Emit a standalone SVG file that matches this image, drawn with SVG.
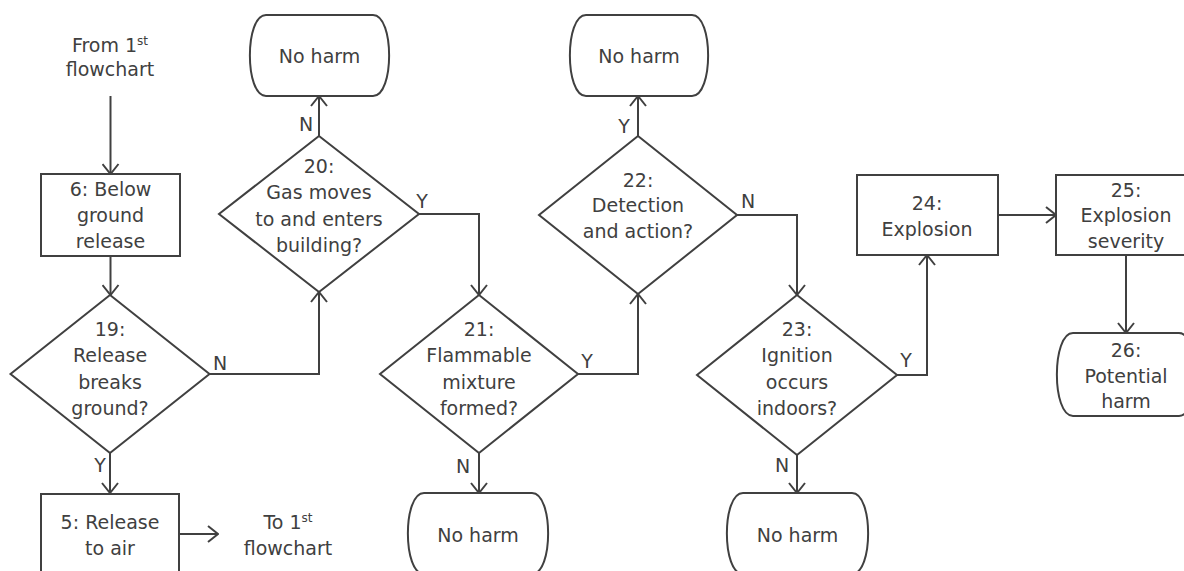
<svg xmlns="http://www.w3.org/2000/svg" width="1184" height="571" viewBox="0 0 1184 571">
<defs>
<style>
.s{fill:#fff;stroke:#404040;stroke-width:2}
.c{fill:none;stroke:#404040;stroke-width:2}
text{font-family:"DejaVu Sans","Verdana",sans-serif;font-size:19px;fill:#404040;text-anchor:middle}
</style>
<marker id="arr" markerUnits="userSpaceOnUse" viewBox="0 0 12 18" markerWidth="12" markerHeight="18" refX="11" refY="9" orient="auto">
<path d="M1,1 L11,9 L1,17" fill="none" stroke="#404040" stroke-width="2"/>
</marker>
</defs>
<rect width="1184" height="571" fill="#fff"/>

<g id="connectors" class="c" marker-end="url(#arr)">
<path d="M110.5,96 V174"/>
<path d="M110.5,256 V295"/>
<path d="M110,453 V493"/>
<path d="M179,534 H218"/>
<path d="M209,374 H319 V292"/>
<path d="M319,136 V96"/>
<path d="M419,214 H479 V295"/>
<path d="M479,453 V493"/>
<path d="M578,374 H638 V294"/>
<path d="M638,136 V96"/>
<path d="M737,215 H797 V295"/>
<path d="M797,455 V493"/>
<path d="M897,375 H927 V255"/>
<path d="M998,215 H1056"/>
<path d="M1126,255 V333"/>
</g>

<g id="labels">
<text x="306" y="131">N</text>
<text x="422" y="208">Y</text>
<text x="220" y="370">N</text>
<text x="100" y="472">Y</text>
<text x="587" y="368">Y</text>
<text x="463" y="473">N</text>
<text x="624" y="133">Y</text>
<text x="748" y="208">N</text>
<text x="782" y="472">N</text>
<text x="906" y="367">Y</text>
</g>

<g id="from1">
<text x="110" y="52">From 1<tspan font-size="12" dy="-7">st</tspan></text>
<text x="110" y="76">flowchart</text>
</g>

<g id="n6">
<rect class="s" x="41" y="174" width="139" height="82"/>
<text x="110.5" y="196">6: Below</text>
<text x="110.5" y="222">ground</text>
<text x="110.5" y="248">release</text>
</g>

<g id="n19">
<polygon class="s" points="110,295 209.5,374 110,453 10.5,374"/>
<text x="110" y="336">19:</text>
<text x="110" y="362">Release</text>
<text x="110" y="389">breaks</text>
<text x="110" y="415">ground?</text>
</g>

<g id="n5">
<rect class="s" x="41" y="494" width="138" height="90"/>
<text x="110" y="529">5: Release</text>
<text x="110" y="555">to air</text>
</g>

<g id="to1">
<text x="288" y="529">To 1<tspan font-size="12" dy="-7">st</tspan></text>
<text x="288" y="555">flowchart</text>
</g>

<g id="n20">
<polygon class="s" points="319,136 419,214 319,292 219,214"/>
<text x="319" y="173">20:</text>
<text x="319" y="199">Gas moves</text>
<text x="319" y="226">to and enters</text>
<text x="319" y="252">building?</text>
</g>

<g id="nh20">
<path class="s" d="M266,15 H373 C394.5,15 394.5,96 373,96 H266 C244.5,96 244.5,15 266,15 Z"/>
<text x="319.5" y="63">No harm</text>
</g>

<g id="n21">
<polygon class="s" points="479,295 578,374 479,453 380,374"/>
<text x="479" y="336">21:</text>
<text x="479" y="362">Flammable</text>
<text x="479" y="389">mixture</text>
<text x="479" y="415">formed?</text>
</g>

<g id="nh21">
<path class="s" d="M424,493 H532 C553.5,493 553.5,574 532,574 H424 C402.5,574 402.5,493 424,493 Z"/>
<text x="478" y="542">No harm</text>
</g>

<g id="n22">
<polygon class="s" points="638,136 737,215 638,294 539,215"/>
<text x="638" y="187">22:</text>
<text x="638" y="212">Detection</text>
<text x="638" y="238">and action?</text>
</g>

<g id="nh22">
<path class="s" d="M586,15 H692 C713.5,15 713.5,96 692,96 H586 C564.5,96 564.5,15 586,15 Z"/>
<text x="639" y="63">No harm</text>
</g>

<g id="n23">
<polygon class="s" points="797,295 897,375 797,455 697,375"/>
<text x="797" y="336">23:</text>
<text x="797" y="362">Ignition</text>
<text x="797" y="389">occurs</text>
<text x="797" y="415">indoors?</text>
</g>

<g id="nh23">
<path class="s" d="M743,493 H852 C873.5,493 873.5,574 852,574 H743 C721.5,574 721.5,493 743,493 Z"/>
<text x="797.5" y="542">No harm</text>
</g>

<g id="n24">
<rect class="s" x="857" y="175" width="141" height="80"/>
<text x="927" y="210">24:</text>
<text x="927" y="236">Explosion</text>
</g>

<g id="n25">
<rect class="s" x="1056" y="175" width="140" height="80"/>
<text x="1126" y="197">25:</text>
<text x="1126" y="222">Explosion</text>
<text x="1126" y="248">severity</text>
</g>

<g id="n26">
<path class="s" d="M1073,333 H1179 C1200.5,333 1200.5,416 1179,416 H1073 C1051.5,416 1051.5,333 1073,333 Z"/>
<text x="1126" y="357">26:</text>
<text x="1126" y="383">Potential</text>
<text x="1126" y="408">harm</text>
</g>
</svg>
